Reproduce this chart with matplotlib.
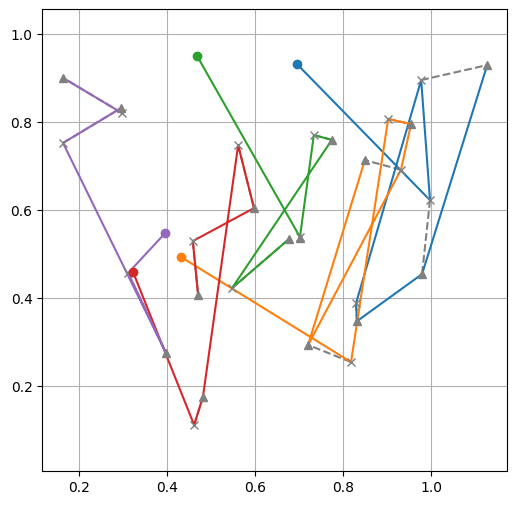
import numpy as np
import matplotlib
matplotlib.use('Agg')
import matplotlib.pyplot as plt

# Each route: start point (circle) then the stops in visiting order.
# 'x' = delivery, '^' = pickup
blue_x = [0.695, 0.997, 0.977, 0.829, 0.831, 0.979, 1.127]
blue_y = [0.932, 0.623, 0.896, 0.389, 0.348, 0.455, 0.930]
blue_kind = ['o', 'x', 'x', 'x', '^', '^', '^']
blue_pairs = [(1, 5), (2, 6), (3, 4)]

orange_x = [0.431, 0.8175, 0.902, 0.954, 0.931, 0.720, 0.849]
orange_y = [0.494, 0.255, 0.8075, 0.796, 0.692, 0.294, 0.714]
orange_kind = ['o', 'x', 'x', '^', 'x', '^', '^']
orange_pairs = [(1, 5), (2, 3), (4, 6)]

green_x = [0.4675, 0.701, 0.701, 0.733, 0.774, 0.547, 0.677]
green_y = [0.951, 0.540, 0.536, 0.771, 0.760, 0.423, 0.535]
green_kind = ['o', 'x', '^', 'x', '^', 'x', '^']
green_pairs = [(1, 2), (3, 4), (5, 6)]

red_x = [0.322, 0.461, 0.481, 0.561, 0.597, 0.458, 0.470]
red_y = [0.460, 0.112, 0.176, 0.748, 0.605, 0.530, 0.408]
red_kind = ['o', 'x', '^', 'x', '^', 'x', '^']
red_pairs = [(1, 2), (3, 4), (5, 6)]

purple_x = [0.395, 0.311, 0.397, 0.163, 0.295, 0.297, 0.163]
purple_y = [0.548, 0.4575, 0.276, 0.753, 0.8325, 0.821, 0.901]
purple_kind = ['o', 'x', '^', 'x', '^', 'x', '^']
purple_pairs = [(1, 2), (3, 4), (5, 6)]

routes = [
    (blue_x, blue_y, blue_kind, blue_pairs),
    (orange_x, orange_y, orange_kind, orange_pairs),
    (green_x, green_y, green_kind, green_pairs),
    (red_x, red_y, red_kind, red_pairs),
    (purple_x, purple_y, purple_kind, purple_pairs),
]


def plot_route(ax, xs, ys, kinds, pairs, color):
    xs = np.asarray(xs)
    ys = np.asarray(ys)
    # pickup -> delivery links
    for a, b in pairs:
        ax.plot([xs[a], xs[b]], [ys[a], ys[b]], '--', color='gray', lw=1.5, zorder=1)
    # the route itself
    ax.plot(xs, ys, '-', color=color, lw=1.5, zorder=2)
    ax.plot(xs[0], ys[0], 'o', color=color, ms=6, zorder=4)
    for k in ['x', '^']:
        sel = np.array([kk == k for kk in kinds])
        ax.plot(xs[sel], ys[sel], k, color='gray', ms=6, ls='none', zorder=3)


def main():
    fig = plt.figure(figsize=(5.16, 5.05), dpi=100)
    ax = fig.add_axes([42.3 / 516, 34 / 505, 465 / 516, 461.7 / 505])

    for i, (xs, ys, kinds, pairs) in enumerate(routes):
        plot_route(ax, xs, ys, kinds, pairs, 'C%d' % i)

    ax.set_xlim(0.1159, 1.1727)
    ax.set_ylim(0.0075, 1.0568)
    ax.set_xticks([0.2, 0.4, 0.6, 0.8, 1.0])
    ax.set_yticks([0.2, 0.4, 0.6, 0.8, 1.0])
    ax.grid(True)
    ax.set_axisbelow(True)

    fig.savefig('out.png', dpi=100)


if __name__ == "__main__":
    main()
